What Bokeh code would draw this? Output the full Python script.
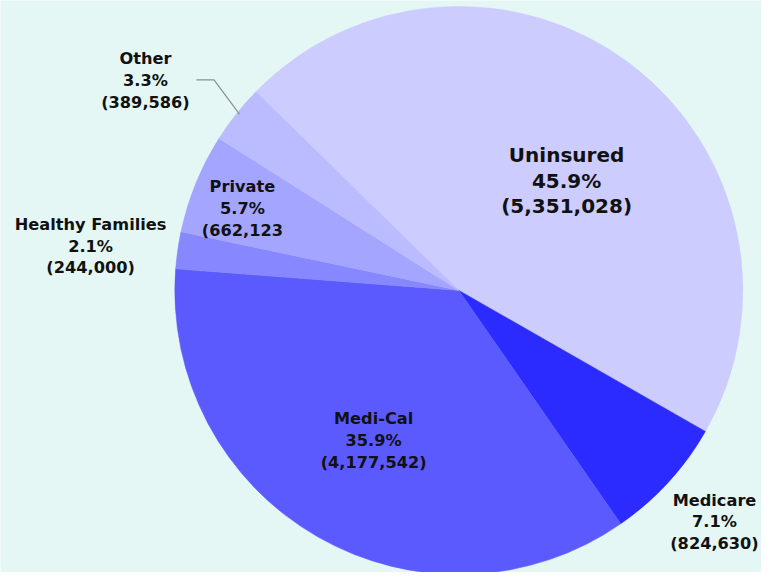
import math
from bokeh.plotting import figure
from bokeh.models import ColumnDataSource
from bokeh.core.properties import value
from bokeh.embed import file_html
from bokeh.resources import INLINE

# ---- data ----
categories = ["Uninsured", "Medicare", "Medi-Cal", "Healthy Families", "Private", "Other"]
counts = [5351028, 824630, 4177542, 244000, 662123, 389586]
pct_labels = ["45.9%", "7.1%", "35.9%", "2.1%", "5.7%", "3.3%"]
count_labels = ["(5,351,028)", "(824,630)", "(4,177,542)", "(244,000)", "(662,123", "(389,586)"]
colors = ["#CCCCFF", "#2B2BFF", "#5A5AFF", "#8787FF", "#A3A5FF", "#BBBBFF"]

# ---- layout (reference pixel coordinates, y measured from the top) ----
W, H = 777, 588
cx, cy, R = 468, 298, 290
start_deg = 135.6  # math angle where the first slice begins; slices run clockwise
label_pos = {  # centre x, first line y, line gap, font size
    "Uninsured": (578, 160, 26, "20px"),
    "Medicare": (729, 512, 22.3, "16.2px"),
    "Medi-Cal": (381, 429, 22.3, "16.2px"),
    "Healthy Families": (92, 231, 22, "16.2px"),
    "Private": (247, 192, 22.5, "16.2px"),
    "Other": (148, 61, 22.8, "16.2px"),
}

def Y(y):
    return H - y

total = float(sum(counts))
starts, ends = [], []
cum = 0.0
for c in counts:
    frac = c / total
    a_hi = math.radians(start_deg - cum * 360)
    a_lo = math.radians(start_deg - (cum + frac) * 360)
    starts.append(a_lo)
    ends.append(a_hi)
    cum += frac

p = figure(width=761, height=572, x_range=(0, W), y_range=(2, 586),
           output_backend="svg", toolbar_location=None, tools="")
p.axis.visible = False
p.grid.visible = False
p.outline_line_color = None
p.min_border = 0
p.background_fill_color = "#E4F7F4"
p.border_fill_color = "#E4F7F4"

src = ColumnDataSource(dict(start=starts, end=ends, color=colors, name=categories))
p.wedge(x=cx, y=Y(cy), radius=R, start_angle="start", end_angle="end",
        direction="anticlock", fill_color="color", line_color="color",
        line_width=0.5, source=src)

# leader line for "Other"
p.line(x=[200, 218, 244], y=[Y(83), Y(83), Y(118)], line_color="#8A8F8E", line_width=1.2)

xs, ys, txt, sizes = [], [], [], []
for i, name in enumerate(categories):
    x0, y0, gap, fs = label_pos[name]
    for j, t in enumerate([name, pct_labels[i], count_labels[i]]):
        xs.append(x0)
        ys.append(Y(y0 + j * gap))
        txt.append(t)
        sizes.append(fs)

lsrc = ColumnDataSource(dict(x=xs, y=ys, text=txt, size=sizes))
p.text(x="x", y="y", text="text", source=lsrc, text_font=value("DejaVu Sans"),
       text_font_style="bold", text_font_size="size", text_color="#111111",
       text_align="center", text_baseline="middle")

open("out.html", "w").write(file_html(p, INLINE))
